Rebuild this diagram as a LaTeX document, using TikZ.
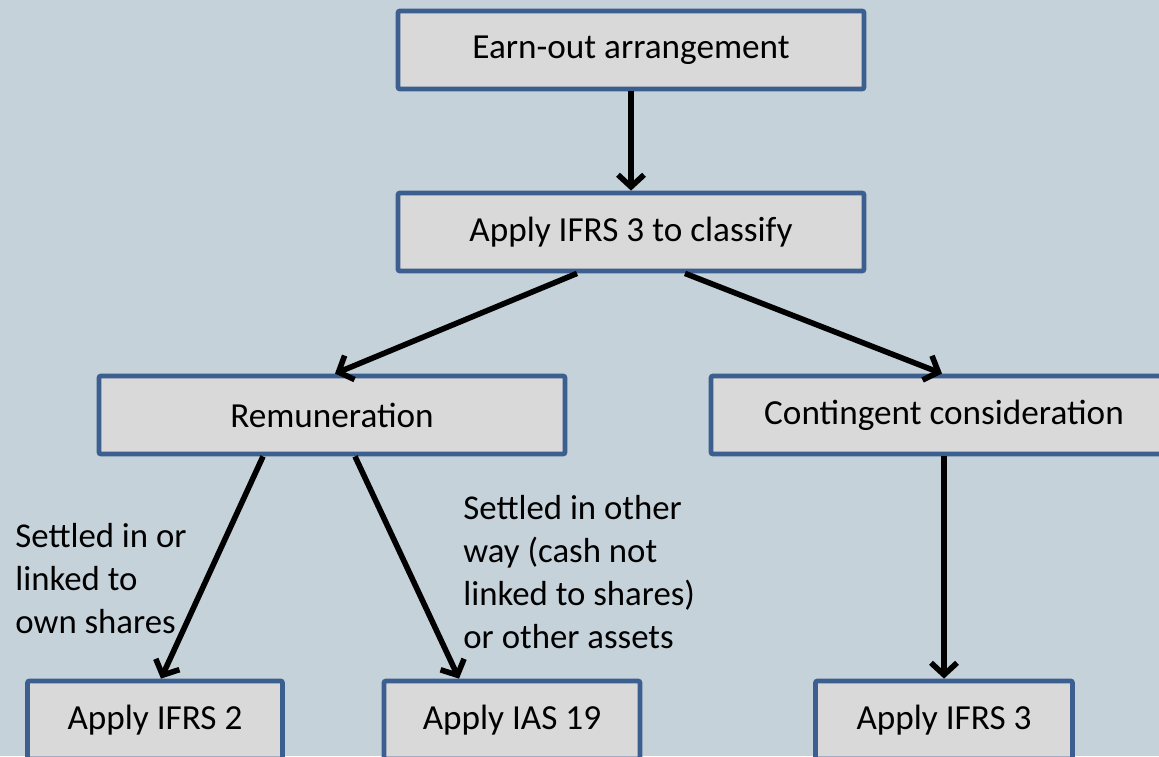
\documentclass[tikz,border=0pt]{standalone}
\usepackage{fontspec}
\setmainfont{Carlito}
\usetikzlibrary{arrows.meta,calc}
\definecolor{bg}{HTML}{C6D2DA}
\definecolor{boxfill}{HTML}{D9D9D9}
\definecolor{boxline}{HTML}{3B5F8E}
\begin{document}
\begin{tikzpicture}[x=0.5pt,y=-0.5pt,
  box/.style={draw=boxline,fill=boxfill,line width=2.4pt,rounded corners=1pt,
    minimum width=#1*0.5pt,minimum height=39pt,inner sep=0pt,
    font=\fontsize{17.6}{21}\selectfont},
  box/.default=466,
  arr/.style={line width=2.8pt,-{Straight Barb[length=6pt,width=13pt,line width=2.8pt]}},
  lbl/.style={align=left,anchor=west,inner sep=0pt,
    font=\fontsize{17.4}{21.5}\selectfont}]
\useasboundingbox (0,0) rectangle (1159,756);
\clip (0,0) rectangle (1159,756);
\fill[bg] (0,0) rectangle (1159,756);
\node[box] (earn) at (631,50) {Earn-out arrangement};
\node[box] (cls) at (631,232) {Apply IFRS 3 to classify};
\node[box] (rem) at (332,415) {Remuneration};
\node[box] (cont) at (944,415) {Contingent consideration};
\node[box=255] (ifrs2) at (155,720) {Apply IFRS 2};
\node[box=256] (ias) at (512,720) {Apply IAS 19};
\node[box=257] (ifrs3) at (944,720) {Apply IFRS 3};
\node[lbl] (l1) at (15,579) {Settled in or\\linked to\\own shares};
\node[lbl] (l2) at (463,572) {Settled in other\\way (cash not\\linked to shares)\\or other assets};
\draw[arr] (earn.south) -- (cls.north);
\draw[arr] ($(cls.south)+(-54,0)$) -- ($(rem.north)+(3,0)$);
\draw[arr] ($(cls.south)+(54,0)$) -- ($(cont.north)+(-2,0)$);
\draw[arr] ($(rem.south)+(-69,0)$) -- ($(ifrs2.north)+(6,0)$);
\draw[arr] ($(rem.south)+(23,0)$) -- ($(ias.north)+(-53,0)$);
\draw[arr] (cont.south) -- (ifrs3.north);
\end{tikzpicture}
\end{document}
